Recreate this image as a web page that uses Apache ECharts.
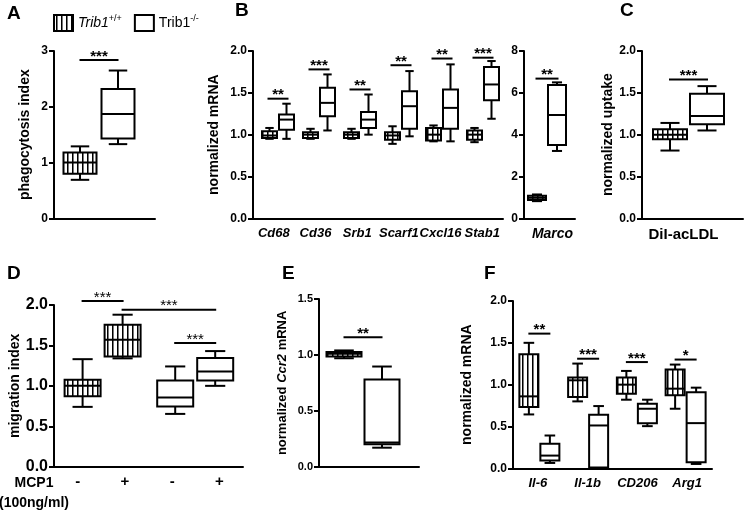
<!DOCTYPE html>
<html><head><meta charset="utf-8">
<script src="https://cdn.jsdelivr.net/npm/echarts@6/dist/echarts.min.js"></script>
<style>html,body{margin:0;padding:0;background:#fff}#c{width:745px;height:512px}</style>
</head><body><div id="c"></div>
<script>
const FONT = '"Liberation Sans", Arial, Helvetica, sans-serif';

// ---------- DATA (box = [min, q1, median, q3, max]) ----------
// A: phagocytosis
const A_wt = [0.69, 0.80, 1.00, 1.18, 1.29];
const A_ko = [1.33, 1.43, 1.87, 2.32, 2.65];
const A_sigY = [2.84];
const A_sigText = ['***'];

// B: scavenger receptor mRNA
const B_genes = ['Cd68', 'Cd36', 'Srb1', 'Scarf1', 'Cxcl16', 'Stab1'];
const B_wt = [
  [0.95, 0.96, 0.99, 1.04, 1.08],
  [0.95, 0.96, 1.00, 1.03, 1.07],
  [0.95, 0.96, 1.00, 1.03, 1.07],
  [0.89, 0.94, 0.99, 1.03, 1.10],
  [0.92, 0.93, 1.00, 1.08, 1.11],
  [0.91, 0.94, 1.00, 1.05, 1.08]
];
const B_ko = [
  [0.95, 1.06, 1.18, 1.24, 1.37],
  [1.05, 1.22, 1.38, 1.56, 1.72],
  [1.00, 1.08, 1.18, 1.27, 1.48],
  [0.98, 1.07, 1.34, 1.52, 1.76],
  [0.92, 1.07, 1.32, 1.54, 1.84],
  [1.19, 1.41, 1.60, 1.81, 1.88]
];
const B_sigY = [1.43, 1.78, 1.54, 1.83, 1.91, 1.92];
const B_sigText = ['**', '***', '**', '**', '**', '***'];

// B (right): Marco
const M_cats = ['Marco'];
const M_wt = [0.82, 0.88, 0.98, 1.08, 1.14];
const M_ko = [3.22, 3.50, 4.94, 6.37, 6.50];
const M_sigY = [6.68];
const M_sigText = ['**'];

// C: DiI-acLDL uptake
const C_cats = ['DiI-acLDL'];
const C_wt = [0.81, 0.944, 1.00, 1.064, 1.14];
const C_ko = [1.05, 1.124, 1.224, 1.49, 1.58];
const C_sigY = [1.66];
const C_sigText = ['***'];

// D: migration (MCP1 - / +)
const D_cats = ['-', '+', '-', '+'];
const D_wt = [[0.74, 0.87, 1.00, 1.074, 1.33], [1.34, 1.364, 1.57, 1.756, 1.88]];
const D_ko = [[0.653, 0.744, 0.855, 1.066, 1.24], [1.00, 1.066, 1.178, 1.343, 1.43]];
const D_sigY = [2.05, 1.94, 1.53];
const D_sigText = ['***', '***', '***'];

// E: Ccr2 mRNA
const E_wt = [0.97, 0.985, 1.01, 1.027, 1.04];
const E_ko = [0.17, 0.20, 0.217, 0.78, 0.896];
const E_sigY = [1.157];
const E_sigText = ['**'];

// F: cytokine mRNA
const F_genes = ['Il-6', 'Il-1b', 'CD206', 'Arg1'];
const F_wt = [
  [0.644, 0.732, 0.86, 1.364, 1.50],
  [0.80, 0.852, 1.052, 1.084, 1.252],
  [0.82, 0.892, 1.00, 1.084, 1.164],
  [0.712, 0.872, 0.952, 1.18, 1.24]
];
const F_ko = [
  [0.064, 0.092, 0.152, 0.292, 0.392],
  [0.00, 0.01, 0.512, 0.64, 0.744],
  [0.504, 0.54, 0.712, 0.772, 0.82],
  [0.052, 0.072, 0.54, 0.908, 0.964]
];
const F_sigY = [1.61, 1.31, 1.27, 1.30];
const F_sigText = ['**', '***', '***', '*'];

// ---------- STYLE ----------
const pc = document.createElement('canvas'); pc.width = 5; pc.height = 5;
const pg = pc.getContext('2d');
pg.fillStyle = '#fff'; pg.fillRect(0, 0, 5, 5);
pg.fillStyle = '#000'; pg.fillRect(2, 0, 1, 5);
pg.fillStyle = '#777'; pg.fillRect(3, 0, 1, 5);
const STRIPE = { image: pc, repeat: 'repeat' };
const LINE = { color: '#000', width: 2 };

const grids = [], xAxes = [], yAxes = [], series = [];

function addGrid(rect, xAxis, yAxis) {
  const idx = grids.length;
  grids.push(Object.assign({ containLabel: false, outerBoundsMode: 'none' }, rect));
  xAxes.push(Object.assign({ gridIndex: idx }, xAxis));
  yAxes.push(Object.assign({ gridIndex: idx }, yAxis));
  return idx;
}

function boxSeries(name, gi, data, off, w, fill) {
  return {
    type: 'custom', name, xAxisIndex: gi, yAxisIndex: gi, data,
    encode: { x: 0, y: [2, 3, 4, 5, 6] }, silent: true, animation: false,
    itemStyle: { color: fill === '#fff' ? '#fff' : '#000', borderColor: '#000' },
    renderItem(params, api) {
      const c = api.value(0);
      const x = api.coord([c, 0])[0] + api.value(1) * off;
      const y = [2, 3, 4, 5, 6].map(i => api.coord([c, api.value(i)])[1]);
      const hw = w / 2, cw = w * 0.28;
      const st = { stroke: '#000', lineWidth: 2, fill: null };
      return { type: 'group', children: [
        { type: 'line', shape: { x1: x, y1: y[4], x2: x, y2: y[3] }, style: st },
        { type: 'line', shape: { x1: x, y1: y[1], x2: x, y2: y[0] }, style: st },
        { type: 'line', shape: { x1: x - cw, y1: y[4], x2: x + cw, y2: y[4] }, style: st },
        { type: 'line', shape: { x1: x - cw, y1: y[0], x2: x + cw, y2: y[0] }, style: st },
        { type: 'rect', shape: { x: x - hw, y: y[3], width: w, height: y[1] - y[3] }, style: { fill, stroke: '#000', lineWidth: 2 } },
        { type: 'line', shape: { x1: x - hw, y1: y[2], x2: x + hw, y2: y[2] }, style: st }
      ] };
    }
  };
}

function sigSeries(gi, data, texts, off, pad, txtFont) {
  return {
    type: 'custom', xAxisIndex: gi, yAxisIndex: gi, data,
    encode: { x: 0, y: 4 }, silent: true, animation: false,
    renderItem(params, api) {
      const yv = api.value(4);
      const p1 = api.coord([api.value(0), yv]);
      const p2 = api.coord([api.value(2), yv]);
      const x1 = p1[0] + api.value(1) * off - pad;
      const x2 = p2[0] + api.value(3) * off + pad;
      return { type: 'group', children: [
        { type: 'line', shape: { x1, y1: p1[1], x2, y2: p1[1] }, style: { stroke: '#000', lineWidth: 2 } },
        { type: 'text', style: { x: (x1 + x2) / 2, y: p1[1] + 4, text: texts[params.dataIndex], align: 'center', verticalAlign: 'bottom', font: txtFont || ('bold 15px ' + FONT), fill: '#000' } }
      ] };
    }
  };
}

function panel(p) {
  addGrid({ left: p.left, top: p.top, width: p.width, height: p.height },
    { type: 'category', data: p.cats || [''],
      axisLine: { show: true, onZero: false, lineStyle: LINE }, axisTick: { show: false },
      axisLabel: Object.assign({ show: !!p.cats, interval: 0, color: '#000', fontFamily: FONT, fontWeight: 'bold', fontSize: 14, margin: 9 }, p.catLabel || {}),
      splitLine: { show: false } },
    { type: 'value', min: p.min, max: p.max, interval: p.interval,
      axisLine: { show: true, lineStyle: LINE }, axisTick: { show: true, length: 5, lineStyle: LINE },
      axisLabel: { color: '#000', fontFamily: FONT, fontWeight: 'bold', fontSize: p.tickFont || 12, margin: 6,
        formatter: v => v.toFixed(p.decimals) },
      splitLine: { show: false },
      name: p.name, nameLocation: 'middle', nameGap: p.nameGap,
      nameTextStyle: Object.assign({ color: '#000', fontFamily: FONT, fontWeight: 'bold', fontSize: 14 }, p.nameStyle || {}) });
  const d = addGrid({ left: p.dLeft, top: p.top, width: p.dWidth, height: p.height },
    { type: 'category', data: p.dCats, show: false },
    { type: 'value', min: p.min, max: p.max, show: false });
  series.push(boxSeries('wt', d, p.wt, p.off, p.boxW, STRIPE));
  series.push(boxSeries('ko', d, p.ko, p.off, p.boxW, '#fff'));
  series.push(sigSeries(d, p.sig, p.sigText, p.off, p.pad || 0, p.sigFont));
}

const italicLabel = { fontStyle: 'italic' };

// A
panel({ left: 54, top: 51, width: 101, height: 167.3, min: 0, max: 3, interval: 1, decimals: 0,
  name: 'phagocytosis index', nameGap: 22,
  dLeft: 61, dWidth: 76, dCats: ['WT', 'KO'], off: 0, boxW: 33,
  wt: [[0, 0, ...A_wt]], ko: [[1, 0, ...A_ko]],
  sig: A_sigY.map(y => [0, 0, 1, 0, y]), sigText: A_sigText, pad: 0.5 });

// B
panel({ left: 253, top: 51, width: 250, height: 167.3, min: 0, max: 2, interval: 0.5, decimals: 1,
  cats: B_genes, catLabel: { fontStyle: 'italic', fontSize: 13 }, name: 'normalized mRNA', nameGap: 32,
  dLeft: 257.5, dWidth: 246, dCats: B_genes, off: 8.5, boxW: 15,
  wt: B_wt.map((v, i) => [i, -1, ...v]), ko: B_ko.map((v, i) => [i, 1, ...v]),
  sig: B_sigY.map((y, i) => [i, -1, i, 1, y]), sigText: B_sigText, pad: 2 });

// Marco
panel({ left: 524, top: 51, width: 51, height: 167.3, min: 0, max: 8, interval: 2, decimals: 0,
  cats: M_cats, catLabel: Object.assign({ padding: [0, 0, 0, 6] }, italicLabel), name: '', nameGap: 0,
  dLeft: 527, dWidth: 40, dCats: ['WT', 'KO'], off: 0, boxW: 18,
  wt: [[0, 0, ...M_wt]], ko: [[1, 0, ...M_ko]],
  sig: M_sigY.map(y => [0, 0, 1, 0, y]), sigText: M_sigText, pad: 1.5 });

// C
panel({ left: 642, top: 51, width: 101, height: 167.3, min: 0, max: 2, interval: 0.5, decimals: 1,
  cats: C_cats, catLabel: { fontSize: 15, padding: [0, 18, 0, 0] }, name: 'normalized uptake', nameGap: 24,
  dLeft: 651.5, dWidth: 74, dCats: ['WT', 'KO'], off: 0, boxW: 34,
  wt: [[0, 0, ...C_wt]], ko: [[1, 0, ...C_ko]],
  sig: C_sigY.map(y => [0, 0, 1, 0, y]), sigText: C_sigText, pad: 1 });

// D
panel({ left: 54, top: 305, width: 189, height: 161.7, min: 0, max: 2, interval: 0.5, decimals: 1, tickFont: 16,
  cats: D_cats, catLabel: { fontSize: 15, margin: 8 }, name: 'migration index', nameGap: 31,
  dLeft: 56.3, dWidth: 185.2, dCats: ['WT', 'KO'], off: 20, boxW: 36,
  wt: D_wt.map((v, i) => [0, i ? 1 : -1, ...v]), ko: D_ko.map((v, i) => [1, i ? 1 : -1, ...v]),
  sig: [[0, -1, 0, 1, D_sigY[0]], [0, 1, 1, 1, D_sigY[1]], [1, -1, 1, 1, D_sigY[2]]],
  sigText: D_sigText, pad: 1, sigFont: '15px ' + FONT });

// E
panel({ left: 319, top: 299, width: 100, height: 167.7, min: 0, max: 1.5, interval: 0.5, decimals: 1, tickFont: 11,
  name: '{a|normalized }{b|Ccr2}{a| mRNA}', nameGap: 30,
  nameStyle: { rich: { a: { fontFamily: FONT, fontWeight: 'bold', fontSize: 13, color: '#000' },
                       b: { fontFamily: FONT, fontWeight: 'bold', fontStyle: 'italic', fontSize: 13, color: '#000' } } },
  dLeft: 325, dWidth: 76, dCats: ['WT', 'KO'], off: 0, boxW: 35,
  wt: [[0, 0, ...E_wt]], ko: [[1, 0, ...E_ko]],
  sig: E_sigY.map(y => [0, 0, 1, 0, y]), sigText: E_sigText, pad: 0.5 });

// F
panel({ left: 513, top: 301, width: 199, height: 167.3, min: 0, max: 2, interval: 0.5, decimals: 1,
  cats: F_genes, catLabel: Object.assign({ fontSize: 13 }, italicLabel), name: 'normalized mRNA', nameGap: 39,
  dLeft: 515, dWidth: 195, dCats: F_genes, off: 10.5, boxW: 19,
  wt: F_wt.map((v, i) => [i, -1, ...v]), ko: F_ko.map((v, i) => [i, 1, ...v]),
  sig: F_sigY.map((y, i) => [i, -1, i, 1, y]), sigText: F_sigText, pad: 0.5 });

function letter(t, x, y) {
  return { type: 'text', left: x, top: y, style: { text: t, font: 'bold 19px ' + FONT, fill: '#000' } };
}

const chart = echarts.init(document.getElementById('c'), null, { renderer: 'canvas' });
chart.setOption({
  backgroundColor: '#fff',
  animation: false,
  grid: grids, xAxis: xAxes, yAxis: yAxes, series,
  legend: {
    left: 48, top: 9, itemWidth: 19, itemHeight: 16, itemGap: 12, selectedMode: false,
    data: [
      { name: 'wt', icon: 'rect', itemStyle: { color: STRIPE, borderColor: '#000', borderWidth: 2 } },
      { name: 'ko', icon: 'rect', itemStyle: { color: '#fff', borderColor: '#000', borderWidth: 2 } }
    ],
    formatter: n => n === 'wt' ? '{i|Trib1}{s|+/+}' : '{n|Trib1}{s|-/-}',
    textStyle: { rich: {
      i: { fontFamily: FONT, fontStyle: 'italic', fontSize: 14, color: '#000', lineHeight: 18 },
      n: { fontFamily: FONT, fontSize: 14, color: '#000', lineHeight: 18 },
      s: { fontFamily: FONT, fontSize: 9, color: '#000', verticalAlign: 'top', lineHeight: 18 }
    } }
  },
  graphic: [
    letter('A', 7, 4), letter('B', 235, 1), letter('C', 620, 1),
    letter('D', 7, 264), letter('E', 282, 264), letter('F', 484, 264),
    { type: 'text', style: { x: 34, y: 483, text: 'MCP1', font: 'bold 14px ' + FONT, fill: '#000', align: 'center', verticalAlign: 'middle' } },
    { type: 'text', style: { x: 34, y: 503, text: '(100ng/ml)', font: 'bold 14px ' + FONT, fill: '#000', align: 'center', verticalAlign: 'middle' } }
  ]
});
</script></body></html>
